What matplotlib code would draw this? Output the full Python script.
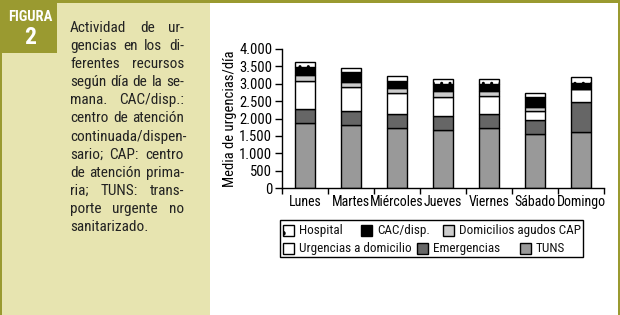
import matplotlib
matplotlib.use('Agg')
import matplotlib.pyplot as plt
from matplotlib.patches import Rectangle
import numpy as np

# --- data ---
days = ['Lunes', 'Martes', 'Miércoles', 'Jueves', 'Viernes', 'Sábado', 'Domingo']
tuns = [1870, 1810, 1725, 1665, 1725, 1550, 1610]
emergencias = [400, 400, 400, 400, 400, 400, 870]
urg_domicilio = [805, 695, 610, 552, 517, 273, 360]
dom_cap = [165, 150, 133, 162, 139, 120, 15]
cac_disp = [242, 292, 221, 212, 220, 274, 155]
hospital = [144, 95, 144, 144, 129, 115, 180]

y_ticks = [0, 500, 1000, 1500, 2000, 2500, 3000, 3500, 4000]
y_ticklabels = ['0', '500', '1.000', '1.500', '2.000', '2.500', '3.000', '3.500', '4.000']

caption_lines = [
    'Actividad de ur-',
    'gencias en los di-',
    'ferentes recursos',
    'según día de la se-',
    'mana. CAC/disp.:',
    'centro de atención',
    'continuada/dispen-',
    'sario; CAP: centro',
    'de atención prima-',
    'ria; TUNS: trans-',
    'porte urgente no',
    'sanitarizado.',
]

OLIVE = '#9a9a30'
KHAKI = '#e7e4b0'
FONT = ['Roboto Condensed', 'Archivo Narrow', 'PT Sans Narrow', 'Fira Sans Condensed',
        'Liberation Sans Narrow', 'DejaVu Sans']
plt.rcParams['font.family'] = FONT
plt.rcParams['hatch.linewidth'] = 1.0

W, H = 620, 315
fig = plt.figure(figsize=(W / 100, H / 100), dpi=100)


def fx(px):
    return px / W


def fy(py):
    return 1 - py / H


def box(x0, y0, x1, y1, **kw):
    # rectangle in pixel coords measured from the top-left corner
    r = Rectangle((fx(x0), fy(y1)), (x1 - x0) / W, (y1 - y0) / H,
                  transform=fig.transFigure, **kw)
    fig.patches.append(r)
    return r


# --- background panels ---
box(0, 0, 210, H, facecolor=KHAKI, edgecolor='none', zorder=0)
box(0, 0, 57, 53, facecolor=OLIVE, edgecolor='none', zorder=1)
box(0, 0, W, 2.5, facecolor=OLIVE, edgecolor='none', zorder=1)
box(0, 0, 2, H, facecolor=OLIVE, edgecolor='none', zorder=1)
box(W - 2, 0, W, H, facecolor=OLIVE, edgecolor='none', zorder=1)

fig.text(fx(30), fy(17), 'FIGURA', color='white', fontsize=10.5, fontweight='bold',
         ha='center', va='center')
fig.text(fx(30), fy(38), '2', color='white', fontsize=17, fontweight='bold',
         ha='center', va='center')

# --- justified caption ---
renderer = fig.canvas.get_renderer()
x_left, x_right = 70, 184
y0, dy = 28, 18.1
CAP_FS = 11
for i, line in enumerate(caption_lines):
    y = fy(y0 + i * dy)
    words = line.split()
    if i == len(caption_lines) - 1 or len(words) == 1:
        fig.text(fx(x_left), y, line, fontsize=CAP_FS, va='center', ha='left', color='#222222')
        continue
    texts = [fig.text(0, y, w, fontsize=CAP_FS, va='center', ha='left', color='#222222') for w in words]
    widths = [t.get_window_extent(renderer).width for t in texts]
    gap = max((x_right - x_left - sum(widths)) / (len(words) - 1), 3)
    x = x_left
    for t, w in zip(texts, widths):
        t.set_x(fx(x))
        x += w + gap

# --- chart ---
ax = fig.add_axes([fx(282), (H - 188) / H, (604 - 282) / W, (188 - 49) / H])
x = np.arange(len(days))
bw = 0.42
series = [
    ('TUNS', tuns, '#999999', None),
    ('Emergencias', emergencias, '#666666', None),
    ('Urgencias a domicilio', urg_domicilio, 'white', None),
    ('Domicilios agudos CAP', dom_cap, '#cccccc', None),
    ('CAC/disp.', cac_disp, 'black', None),
    ('Hospital', hospital, 'white', '..'),
]
bottom = np.zeros(len(days))
style = {}
for name, vals, color, hatch in series:
    ax.bar(x, vals, bw, bottom=bottom, color=color, edgecolor='black',
           linewidth=1, hatch=hatch, label=name)
    style[name] = (color, hatch)
    bottom += np.array(vals)

ax.set_xlim(-0.5, len(days) - 0.5)
ax.set_ylim(0, 4000)
ax.set_yticks(y_ticks)
ax.set_yticklabels(y_ticklabels)
ax.set_xticks(x)
ax.set_xticklabels(days)
ax.set_xticks(np.arange(-0.5, len(days)), minor=True)
ax.tick_params(axis='x', which='major', length=0, labelsize=10, pad=5)
ax.tick_params(axis='x', which='minor', length=4, direction='out', width=1)
ax.tick_params(axis='y', length=5, width=1, labelsize=10.5, pad=2)
for s in ['top', 'right']:
    ax.spines[s].set_visible(False)
for s in ['left', 'bottom']:
    ax.spines[s].set_linewidth(1)
ax.set_ylabel('Media de urgencias/día', fontsize=10.5)
ax.yaxis.set_label_coords((237 - 282) / 322, 0.5)
ax.set_facecolor('none')

# --- legend box: two rows laid out like the original (not a grid) ---
box(280, 220, 583, 257, facecolor='white', edgecolor='black', linewidth=1, zorder=2)
legend_rows = [
    (230, [('Hospital', 283), ('CAC/disp.', 361), ('Domicilios agudos CAP', 443)]),
    (248, [('Urgencias a domicilio', 283), ('Emergencias', 417), ('TUNS', 520)]),
]
for ly, entries in legend_rows:
    for name, lx in entries:
        color, hatch = style[name]
        box(lx, ly - 5.5, lx + 11, ly + 5.5, facecolor=color, edgecolor='black',
            linewidth=1, hatch='.' if hatch else None, zorder=3)
        fig.text(fx(lx + 16), fy(ly + 0.5), name, fontsize=9.5, va='center', ha='left',
                 color='#111111', zorder=4)

fig.savefig('out.png', dpi=100)
